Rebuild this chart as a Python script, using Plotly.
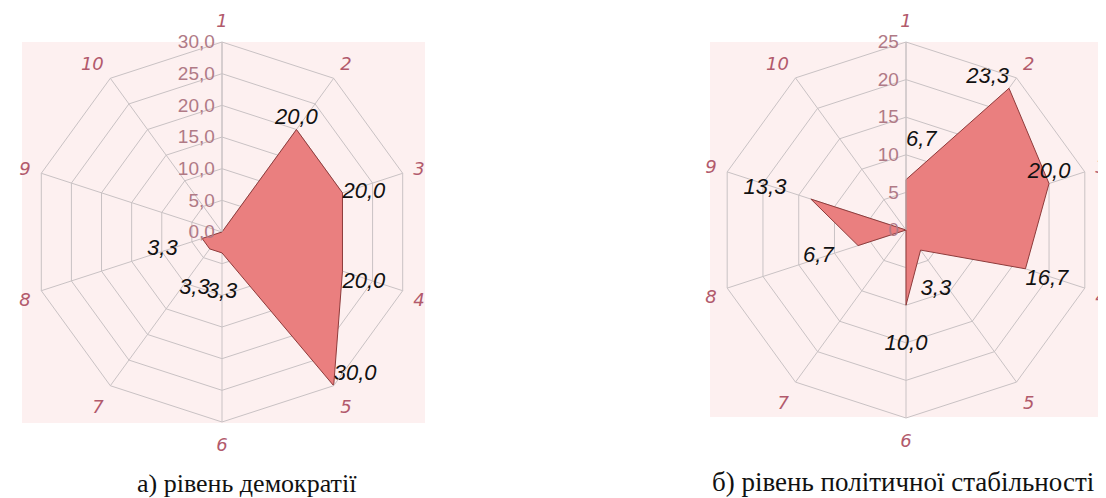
"""Radar charts: democracy level and political stability (share of responses, %)."""

import plotly.graph_objects as go

CATEGORIES = ["1", "2", "3", "4", "5", "6", "7", "8", "9", "10"]

DEMOCRACY = [0.0, 20.0, 20.0, 20.0, 30.0, 3.3, 3.3, 3.3, 0.0, 0.0]
STABILITY = [6.7, 23.3, 20.0, 16.7, 3.3, 10.0, 0.0, 6.7, 13.3, 0.0]

CAPTION_LEFT = "а) рівень демократії"
CAPTION_RIGHT = "б) рівень політичної стабільності"

# label placement per vertex ("down"/"up" add an empty line, "left" pads on the right)
DEMOCRACY_TEXTPOS = ["top center", "top center", "middle right", "bottom right", "top right",
                     "bottom center", "bottom left", "bottom left", "top center", "top center"]
DEMOCRACY_SHIFT = ["", "", "", "", "", "down", "down", "left", "", ""]
STABILITY_TEXTPOS = ["top right", "top left", "top center", "bottom right", "bottom right",
                     "bottom center", "top center", "bottom left", "top left", "top center"]
STABILITY_SHIFT = ["up", "", "", "", "down", "down", "", "left", "left", ""]

# the page body has an 8px margin, so the figure is sized to fill the rest of the window
PAGE_W, PAGE_H, BODY = 1106, 498, 8
W, H = PAGE_W - BODY, PAGE_H - BODY

FILL = "#ea7f7f"
EDGE = "#8e3b3b"
PINK = "#fdf0f0"
GRID = "#c9c2c4"
CAT_COLOR = "#b25a6c"
TICK_COLOR = "#b07a86"
SANS = "Liberation Sans, Arial"
SERIF = "Liberation Serif, Times New Roman"


def px(x):
    return (x - BODY) / W


def py(y):
    return 1 - (y - BODY) / H


def label(v, shift):
    if v == 0:
        return ""
    s = f"{v:.1f}".replace(".", ",")
    if shift == "down":
        return "<br>" + s
    if shift == "up":
        return s + "<br>"
    if shift == "left":
        return s + "\u00a0\u00a0\u00a0\u00a0"
    return s


def radar_trace(values, positions, shifts, subplot):
    # close the polygon by repeating the first vertex
    r = values + values[:1]
    theta = CATEGORIES + CATEGORIES[:1]
    text = [label(v, s) for v, s in zip(values, shifts)] + [""]
    return go.Scatterpolar(
        r=r,
        theta=theta,
        mode="lines+text",
        fill="toself",
        fillcolor=FILL,
        line=dict(color=EDGE, width=1),
        text=text,
        textposition=positions + positions[:1],
        textfont=dict(family=SANS, size=22, color="#111111", style="italic"),
        subplot=subplot,
        hoverinfo="skip",
        showlegend=False,
    )


def polar_layout(cx, cy, radius, rmax, tickformat):
    return dict(
        domain=dict(x=[px(cx - radius), px(cx + radius)], y=[py(cy + radius), py(cy - radius)]),
        bgcolor="rgba(0,0,0,0)",
        gridshape="linear",
        angularaxis=dict(
            type="category",
            categoryarray=CATEGORIES,
            direction="clockwise",
            rotation=90,
            showline=True,
            linecolor=GRID,
            linewidth=1,
            gridcolor=GRID,
            ticks="outside",
            ticklen=7,
            tickcolor="rgba(0,0,0,0)",
            tickfont=dict(family="DejaVu Sans", size=18, color=CAT_COLOR, style="italic"),
        ),
        radialaxis=dict(
            range=[0, rmax],
            dtick=5,
            tickformat=tickformat,
            angle=90,
            tickangle=90,
            side="counterclockwise",
            showline=True,
            linecolor=GRID,
            gridcolor=GRID,
            ticks="",
            tickfont=dict(family=SANS, size=19, color=TICK_COLOR),
        ),
    )


fig = go.Figure()
fig.add_trace(radar_trace(DEMOCRACY, DEMOCRACY_TEXTPOS, DEMOCRACY_SHIFT, "polar"))
fig.add_trace(radar_trace(STABILITY, STABILITY_TEXTPOS, STABILITY_SHIFT, "polar2"))

fig.update_layout(
    width=W,
    height=H,
    margin=dict(l=0, r=0, t=0, b=0),
    paper_bgcolor="white",
    separators=", ",
    polar=polar_layout(222, 232, 190, 30, ".1f"),
    polar2=polar_layout(906, 230, 188, 25, "d"),
    shapes=[
        dict(type="rect", xref="paper", yref="paper", layer="below",
             x0=px(22), x1=px(425), y0=py(423), y1=py(42),
             fillcolor=PINK, line=dict(width=0)),
        dict(type="rect", xref="paper", yref="paper", layer="below",
             x0=px(710), x1=1.0, y0=py(417), y1=py(42),
             fillcolor=PINK, line=dict(width=0)),
    ],
    annotations=[
        dict(text=CAPTION_LEFT, xref="paper", yref="paper", x=px(247), y=py(483),
             xanchor="center", yanchor="middle", showarrow=False,
             font=dict(family=SERIF, size=26, color="#111111")),
        dict(text=CAPTION_RIGHT, xref="paper", yref="paper", x=px(903), y=py(482),
             xanchor="center", yanchor="middle", showarrow=False,
             font=dict(family=SERIF, size=27, color="#111111")),
    ],
)

fig.write_html("out.html")
